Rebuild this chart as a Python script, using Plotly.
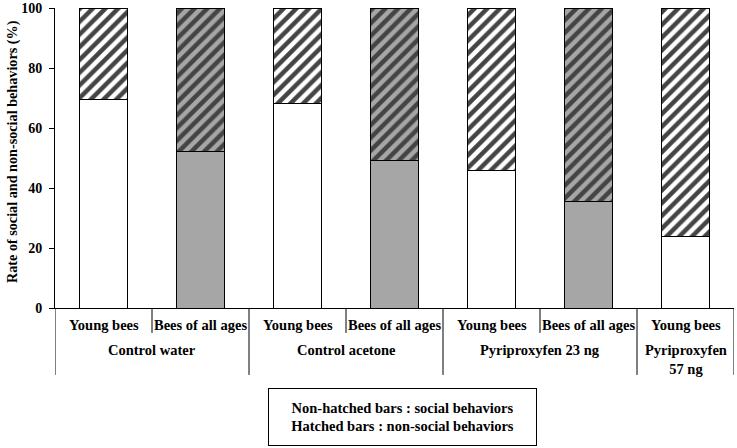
import plotly.graph_objects as go

sub_labels = ["Young bees", "Bees of all ages", "Young bees", "Bees of all ages",
              "Young bees", "Bees of all ages", "Young bees"]
groups = ["Control water", "Control acetone", "Pyriproxyfen 23 ng", "Pyriproxyfen<br>57 ng"]
group_sizes = [2, 2, 2, 1]
social = [69.5, 52.3, 68.2, 49.2, 45.9, 35.4, 23.7]
nonsocial = [100 - v for v in social]
is_all_ages = [False, True, False, True, False, True, False]
y_title = "Rate of social and non-social behaviors (%)"
legend_text = "Non-hatched bars : social behaviors<br>Hatched bars : non-social behaviors"

GRAY = "#a6a6a6"
colors = [GRAY if a else "white" for a in is_all_ages]
xs = list(range(len(sub_labels)))

FAM = "Liberation Serif, Times New Roman, serif"
def F(size):
    return dict(family=FAM, size=size, color="black", weight="bold")

fig = go.Figure()
fig.add_trace(go.Bar(
    x=xs, y=social, width=0.5,
    marker=dict(color=colors, line=dict(color="black", width=1)),
    showlegend=False, hoverinfo="y"))
fig.add_trace(go.Bar(
    x=xs, y=nonsocial, width=0.5,
    marker=dict(color=colors, line=dict(color="black", width=1),
                pattern=dict(shape="/", fgcolor="black", bgcolor=colors, fgopacity=1,
                             size=9, solidity=0.5)),
    showlegend=False, hoverinfo="y"))

shapes = []
for i, lab in enumerate(sub_labels):
    fig.add_annotation(x=i, y=-0.057, xref="x", yref="paper", text=lab, showarrow=False,
                       yanchor="middle", font=F(14.5))
start = 0
for g, n in zip(groups, group_sizes):
    for k in range(1, n):
        xb = start + k - 0.5
        shapes.append(dict(type="line", xref="x", yref="paper", x0=xb, x1=xb, y0=0, y1=-0.083,
                           line=dict(color="black", width=1)))
    xc = start + (n - 1) / 2
    fig.add_annotation(x=xc, y=-0.14 if n > 1 else -0.17, xref="x", yref="paper", text=g,
                       showarrow=False, yanchor="middle", font=F(14.5))
    start += n
acc = -0.5
bounds = [acc]
for n in group_sizes:
    acc += n
    bounds.append(acc)
for xb in bounds:
    shapes.append(dict(type="line", xref="x", yref="paper", x0=xb, x1=xb, y0=0, y1=-0.223,
                       line=dict(color="black", width=1)))

fig.add_annotation(xref="paper", yref="paper", x=0.512, y=-0.362, showarrow=False,
                   text=legend_text, align="center", xanchor="center", yanchor="middle",
                   width=251, height=40,
                   font=F(14.5), bordercolor="black", borderwidth=1,
                   borderpad=8, bgcolor="white")

fig.add_annotation(xref="paper", yref="paper", x=-0.0633, y=0.52, showarrow=False,
                   text=y_title, textangle=-90, xanchor="center", yanchor="middle",
                   font=F(14.2))

fig.update_layout(
    barmode="stack",
    width=737, height=448,
    margin=dict(l=55, r=3, t=8, b=140, autoexpand=False),
    plot_bgcolor="white", paper_bgcolor="white",
    font=F(14),
    shapes=shapes,
    xaxis=dict(range=[-0.5, 6.5], showticklabels=False, showgrid=False, zeroline=False,
               showline=True, linecolor="black", linewidth=1, ticks="", automargin=False),
    yaxis=dict(range=[0, 100], tickvals=[0, 20, 40, 60, 80, 100], showgrid=False,
               zeroline=False, showline=True, linecolor="black", linewidth=1,
               ticks="outside", ticklen=5, tickcolor="black", automargin=False,
               ticklabelstandoff=4,
               tickfont=F(14)),
)
fig.write_html("out.html", config={"displayModeBar": False},
               post_script="document.body.style.margin='0';")
